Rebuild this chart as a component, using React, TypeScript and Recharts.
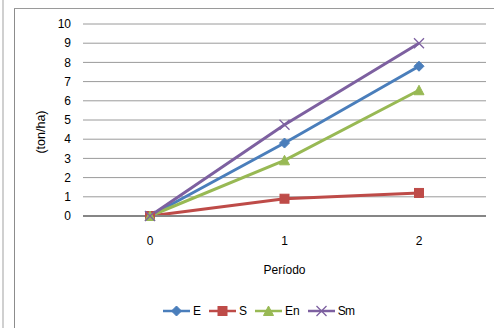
import React from 'react';
import { LineChart, Line, XAxis, YAxis, CartesianGrid, Legend } from 'recharts';

const periods = ['0', '1', '2'];
const seriesE = [0, 3.8, 7.8];
const seriesS = [0, 0.9, 1.2];
const seriesEn = [0, 2.9, 6.55];
const seriesSm = [0, 4.75, 9.0];
const yTicks = [0, 1, 2, 3, 4, 5, 6, 7, 8, 9, 10];

const data = periods.map((p, i) => ({
  p,
  E: seriesE[i],
  S: seriesS[i],
  En: seriesEn[i],
  Sm: seriesSm[i],
}));

const COLORS = { E: '#4A7EBB', S: '#BE4B48', En: '#98B954', Sm: '#7D60A0' };
const FONT = '"Liberation Sans", Arial, sans-serif';

const Diamond = (props: any) => {
  const { cx, cy } = props;
  if (cx == null || cy == null) return null;
  return <path d={`M${cx},${cy - 5}L${cx + 5},${cy}L${cx},${cy + 5}L${cx - 5},${cy}Z`} fill={COLORS.E} stroke={COLORS.E} />;
};
const Square = (props: any) => {
  const { cx, cy } = props;
  if (cx == null || cy == null) return null;
  return <rect x={cx - 4.5} y={cy - 4.5} width={9} height={9} fill={COLORS.S} stroke={COLORS.S} />;
};
const Triangle = (props: any) => {
  const { cx, cy } = props;
  if (cx == null || cy == null) return null;
  return <path d={`M${cx},${cy - 5}L${cx + 5},${cy + 4.5}L${cx - 5},${cy + 4.5}Z`} fill={COLORS.En} stroke={COLORS.En} />;
};
const Cross = (props: any) => {
  const { cx, cy } = props;
  if (cx == null || cy == null) return null;
  return <path d={`M${cx - 5},${cy - 5}L${cx + 5},${cy + 5}M${cx - 5},${cy + 5}L${cx + 5},${cy - 5}`} stroke={COLORS.Sm} strokeWidth={1.3} fill="none" />;
};

const legendItems = [
  { key: 'E', label: 'E', Marker: Diamond },
  { key: 'S', label: 'S', Marker: Square },
  { key: 'En', label: 'En', Marker: Triangle },
  { key: 'Sm', label: 'Sm', Marker: Cross },
];

const LegendContent = () => (
  <div style={{ display: 'flex', alignItems: 'center', height: 26, paddingLeft: 163, fontFamily: FONT, fontSize: 12, color: '#000' }}>
    {legendItems.map(({ key, label, Marker }) => (
      <div key={key} style={{ display: 'flex', alignItems: 'center', marginRight: 8 }}>
        <svg width={27} height={12}>
          <line x1={0} y1={6} x2={27} y2={6} stroke={(COLORS as any)[key]} strokeWidth={2.5} />
          <Marker cx={13.5} cy={6} />
        </svg>
        <span style={{ marginLeft: 3, letterSpacing: key === 'Sm' ? -0.8 : 0 }}>{label}</span>
      </div>
    ))}
  </div>
);

const YLabel = (props: any) => {
  const vb = props.viewBox || {};
  const x = (vb.x || 0) + 41;
  const y = (vb.y || 0) + vb.height / 2 + 12;
  return (
    <text x={x} y={y} transform={`rotate(-90, ${x}, ${y})`} textAnchor="middle" dominantBaseline="central" fontSize={12.5} fontFamily={FONT} fill="#000">
      (ton/ha)
    </text>
  );
};

export default function App() {
  return (
    <div style={{ position: 'absolute', left: 0, top: 0, width: 494, height: 328, background: '#fff' }}>
      <div style={{ position: 'absolute', left: 2, top: 0, width: 2, height: 328, background: '#d0d0d0' }} />
      <div style={{ position: 'absolute', left: 14, top: 8, width: 1, height: 320, background: '#8c8c8c' }} />
      <div style={{ position: 'absolute', left: 14, top: 8, width: 480, height: 1, background: '#9a9a9a' }} />
      <LineChart
        width={494}
        height={328}
        data={data}
        margin={{ top: 24, right: 8, bottom: 4, left: 0 }}
        style={{ position: 'absolute', left: 0, top: 0, fontFamily: FONT }}
      >
        <CartesianGrid vertical={false} stroke="#9a9a9a" strokeWidth={1} />
        <XAxis
          dataKey="p"
          height={82}
          padding={{ left: 67, right: 67 }}
          tickLine={false}
          tickSize={0}
          tickMargin={20}
          axisLine={{ stroke: '#868686', strokeWidth: 2 }}
          tick={{ fontSize: 12, fill: '#000', fontFamily: FONT }}
          label={{ value: 'Período', position: 'insideBottom', offset: 24, fontSize: 12, fill: '#000', fontFamily: FONT }}
        />
        <YAxis
          width={83}
          domain={[0, 10]}
          ticks={yTicks}
          interval={0}
          axisLine={false}
          tickLine={false}
          tickSize={0}
          tickMargin={12}
          tick={{ fontSize: 12, fill: '#000', fontFamily: FONT }}
          label={<YLabel />}
        />
        <Legend verticalAlign="bottom" height={26} content={<LegendContent />} />
        <Line dataKey="E" stroke={COLORS.E} strokeWidth={3} dot={<Diamond />} activeDot={false} isAnimationActive={false} />
        <Line dataKey="S" stroke={COLORS.S} strokeWidth={3} dot={<Square />} activeDot={false} isAnimationActive={false} />
        <Line dataKey="En" stroke={COLORS.En} strokeWidth={3} dot={<Triangle />} activeDot={false} isAnimationActive={false} />
        <Line dataKey="Sm" stroke={COLORS.Sm} strokeWidth={3} dot={<Cross />} activeDot={false} isAnimationActive={false} />
      </LineChart>
    </div>
  );
}
